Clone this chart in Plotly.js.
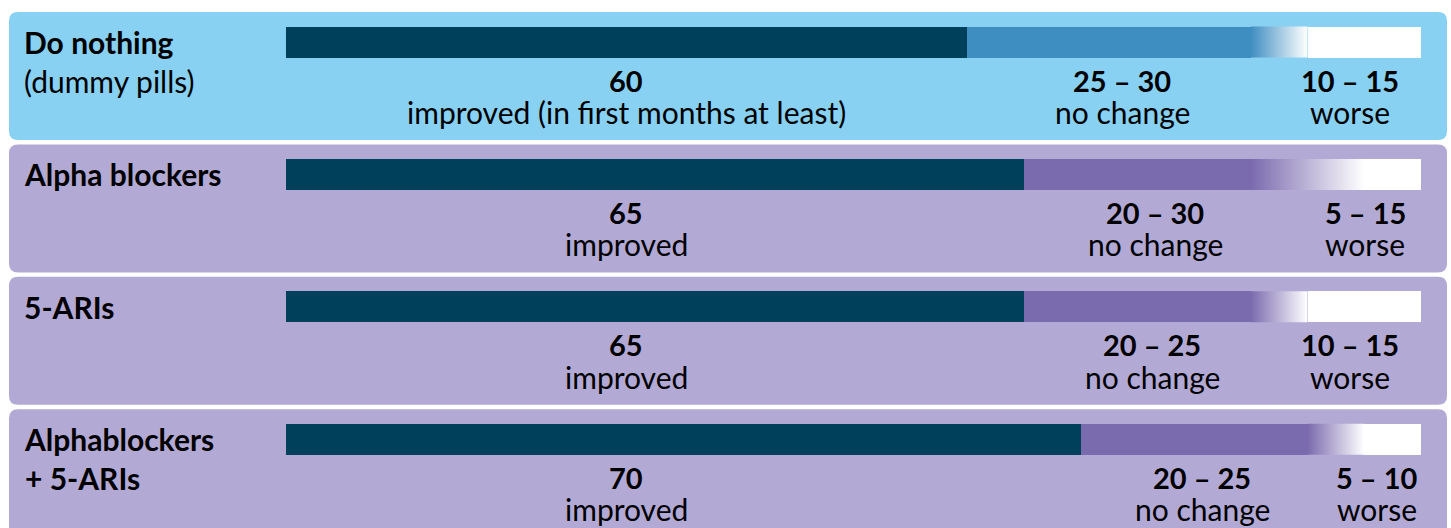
<!DOCTYPE html>
<html>
<head>
<meta charset="utf-8">
<script src="https://cdn.plot.ly/plotly-3.0.1.min.js"></script>
<style>html,body{margin:0;padding:0;background:#fff;}#chart{width:1451px;height:528px;}</style>
</head>
<body>
<div id="chart"></div>
<script>
// ---- data ----
const categories = ['Do nothing', 'Alpha blockers', '5-ARIs', 'Alphablockers + 5-ARIs'];
const categoryLabels = ['<b>Do nothing</b><br>(dummy pills)', '<b>Alpha blockers</b>', '<b>5-ARIs</b>', '<b>Alphablockers</b><br><b>+ 5-ARIs</b>'];
const improved = [60, 65, 65, 70];
const noChangeLow = [25, 20, 20, 20];
const noChangeHigh = [30, 30, 25, 25];
const worseLow = [10, 5, 10, 5];
const worseHigh = [15, 15, 15, 10];
const improvedText = ['improved (in first months at least)', 'improved', 'improved', 'improved'];
const noChangeText = ['no change', 'no change', 'no change', 'no change'];
const worseText = ['worse', 'worse', 'worse', 'worse'];

// ---- style / layout ----
const W = 1451, H = 528;
const BAR_L = 286, BAR_R = 1421;           // pixel extent of 0..100
const X0 = -BAR_L / (BAR_R - BAR_L) * 100;
const X1 = X0 + W / (BAR_R - BAR_L) * 100;
const ROW0 = 42, ROWSTEP = 132.4;           // pixel centre of first bar, row spacing
const Y_TOP = (0 - ROW0) / ROWSTEP, Y_BOT = (H - ROW0) / ROWSTEP;
const BAR_H = 31 / ROWSTEP;
const DARK = '#00405a';
const MID = ['#3f8ec2', '#7a6aae', '#7a6aae', '#7a6aae'];
const PANEL = ['#89d1f2', '#b2aad4', '#b2aad4', '#b2aad4'];
const FONT = 'Lato, "Open Sans", sans-serif';
const labelImprovedX = [626, 626, 626, 626];
const labelNoChangeX = [1122, 1155, 1152, 1202];
const labelWorseX = [1350, 1365, 1350, 1377];

const px2x = p => X0 + p / W * (X1 - X0);
const py2y = p => (p - ROW0) / ROWSTEP;
const rows = categories.map((_, i) => i);

function roundRect(l, t, r, b, rad) {
  const xl = px2x(l), xr = px2x(r), yt = py2y(t), yb = py2y(b);
  const rx = rad / W * (X1 - X0), ry = rad / ROWSTEP;
  return `M${xl + rx},${yt} L${xr - rx},${yt} Q${xr},${yt} ${xr},${yt + ry} L${xr},${yb - ry} Q${xr},${yb} ${xr - rx},${yb} L${xl + rx},${yb} Q${xl},${yb} ${xl},${yb - ry} L${xl},${yt + ry} Q${xl},${yt} ${xl + rx},${yt} Z`;
}

const shapes = rows.map(i => {
  const c = ROW0 + ROWSTEP * i;
  return {type: 'path', xref: 'x', yref: 'y', layer: 'below', line: {width: 0},
          fillcolor: PANEL[i], path: roundRect(9, c - 30, 1447, c + 98, 9)};
});

const traces = [];
// improved (dark)
traces.push({type: 'bar', orientation: 'h', y: rows, x: improved, base: rows.map(() => 0),
  width: BAR_H, marker: {color: DARK, line: {width: 0}}, hoverinfo: 'skip'});
// surely "no change" part
traces.push({type: 'bar', orientation: 'h', y: rows, x: noChangeLow, base: improved,
  width: BAR_H, marker: {color: MID, line: {width: 0}}, hoverinfo: 'skip'});
// uncertain zone -> gradient
rows.forEach(i => {
  const a = improved[i] + noChangeLow[i];
  const b = improved[i] + noChangeHigh[i];
  const yt = i - BAR_H / 2, yb = i + BAR_H / 2;
  traces.push({type: 'scatter', mode: 'none', x: [a, b, b, a, a], y: [yt, yt, yb, yb, yt],
    fill: 'toself', hoverinfo: 'skip',
    fillgradient: {type: 'horizontal', colorscale: [[0, MID[i]], [1, '#ffffff']]}});
});
// worse (white)
traces.push({type: 'bar', orientation: 'h', y: rows, x: worseLow, base: rows.map(i => 100 - worseLow[i]),
  width: BAR_H, marker: {color: '#ffffff', line: {width: 0}}, hoverinfo: 'skip'});

const annotations = [];
rows.forEach(i => {
  const c = ROW0 + ROWSTEP * i;
  annotations.push({xref: 'paper', yref: 'y', x: 22 / W, y: py2y(c - 20), xanchor: 'left', yanchor: 'top',
    align: 'left', showarrow: false, text: categoryLabels[i], font: {family: FONT, size: 30, color: '#000'}});
  const groups = [
    [labelImprovedX[i], `<b>${improved[i]}</b>`, improvedText[i]],
    [labelNoChangeX[i], `<b>${noChangeLow[i]} – ${noChangeHigh[i]}</b>`, noChangeText[i]],
    [labelWorseX[i], `<b>${worseLow[i]} – ${worseHigh[i]}</b>`, worseText[i]]
  ];
  groups.forEach(g => {
    annotations.push({xref: 'paper', yref: 'y', x: g[0] / W, y: py2y(c + 38), xanchor: 'center', yanchor: 'middle',
      showarrow: false, text: g[1], font: {family: FONT, size: 29, color: '#000'}});
    annotations.push({xref: 'paper', yref: 'y', x: g[0] / W, y: py2y(c + 70), xanchor: 'center', yanchor: 'middle',
      showarrow: false, text: g[2], font: {family: FONT, size: 30, color: '#000'}});
  });
});

const layout = {
  width: W, height: H, margin: {l: 0, r: 0, t: 0, b: 0, pad: 0},
  paper_bgcolor: '#ffffff', plot_bgcolor: 'rgba(0,0,0,0)',
  showlegend: false, barmode: 'overlay', bargap: 0,
  xaxis: {range: [X0, X1], visible: false, fixedrange: true},
  yaxis: {range: [Y_BOT, Y_TOP], visible: false, fixedrange: true},
  shapes: shapes, annotations: annotations, font: {family: FONT}
};

Plotly.newPlot('chart', traces, layout, {displayModeBar: false, staticPlot: true});
</script>
</body>
</html>
